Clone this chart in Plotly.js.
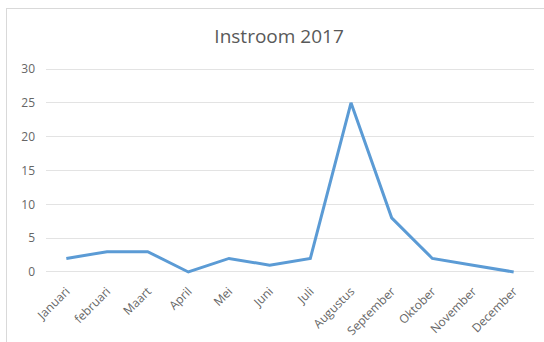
<!DOCTYPE html>
<html>
<head>
<meta charset="utf-8">
<script src="https://cdn.plot.ly/plotly-3.0.1.min.js"></script>
<style>
  html, body { margin: 0; padding: 0; background: #ffffff; }
  #wrap { position: relative; width: 544px; height: 342px; overflow: hidden; }
  #chart { position: absolute; left: 0; top: 0; width: 544px; height: 342px; }
  #frame { position: absolute; left: 6px; top: 8px; width: 560px; height: 360px;
           border-top: 1px solid #d9d9d9; border-left: 1px solid #d9d9d9; pointer-events: none; }
</style>
</head>
<body>
<div id="wrap">
  <div id="chart"></div>
  <div id="frame"></div>
</div>
<script>
// Monthly inflow for 2017
const months = ["Januari", "februari", "Maart", "April", "Mei", "Juni", "Juli",
                "Augustus", "September", "Oktober", "November", "December"];
const instroom = [2, 3, 3, 0, 2, 1, 2, 25, 8, 2, 1, 0];
const yTicks = [0, 5, 10, 15, 20, 25, 30];

const trace = {
  x: months,
  y: instroom,
  type: "scatter",
  mode: "lines",
  line: { color: "#5b9bd5", width: 3 },
  hoverinfo: "skip"
};

const layout = {
  width: 544,
  height: 342,
  margin: { l: 46, r: 10, t: 67, b: 68 },
  paper_bgcolor: "#ffffff",
  plot_bgcolor: "#ffffff",
  showlegend: false,
  title: {
    text: "Instroom 2017",
    font: { family: "Open Sans, sans-serif", size: 19, color: "#595959" },
    x: 0.513, xanchor: "center",
    y: 0.895, yanchor: "middle"
  },
  xaxis: {
    type: "category",
    range: [-0.5, months.length - 0.5],
    tickangle: -45,
    showgrid: false,
    zeroline: false,
    showline: false,
    ticks: "",
    ticklabelstandoff: 7,
    tickfont: { family: "Open Sans, sans-serif", size: 12, color: "#666666" }
  },
  yaxis: {
    range: [-0.3, 30.3],
    tickvals: yTicks,
    ticktext: yTicks.map(String),
    showgrid: true,
    gridcolor: "#e3e3e3",
    gridwidth: 1,
    zeroline: false,
    showline: false,
    ticks: "",
    ticklabelstandoff: 10,
    tickfont: { family: "Open Sans, sans-serif", size: 12, color: "#666666" }
  }
};

Plotly.newPlot("chart", [trace], layout, { displayModeBar: false, staticPlot: true });
</script>
</body>
</html>
